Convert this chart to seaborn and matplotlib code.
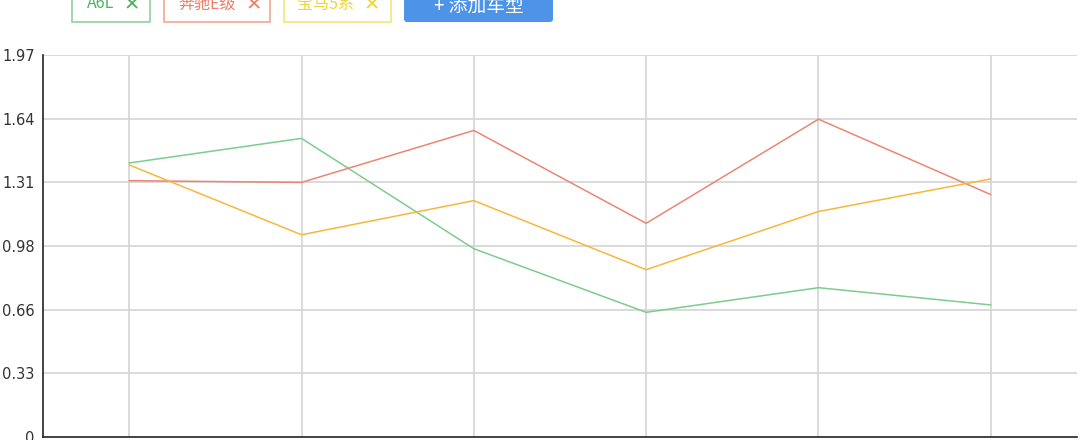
import numpy as np
import pandas as pd
import matplotlib
matplotlib.use("Agg")
import matplotlib.pyplot as plt
from matplotlib.patches import Rectangle, FancyBboxPatch
import seaborn as sns

# ---- data ----
categories = ["1", "2", "3", "4", "5", "6"]
series_names = ["A6L", "奔驰E级", "宝马5系"]
a6l = [1.413, 1.540, 0.971, 0.643, 0.770, 0.681]
benz_e = [1.322, 1.313, 1.581, 1.102, 1.639, 1.250]
bmw_5 = [1.403, 1.043, 1.219, 0.863, 1.163, 1.331]
ytick_labels = ["0", "0.33", "0.66", "0.98", "1.31", "1.64", "1.97"]
button_label = "+ 添加车型"

line_colors = ["#7ccd8c", "#eb8674", "#f6b83c"]

sns.set_theme(style="white")
plt.rcParams['font.family'] = ['DejaVu Sans', 'Noto Sans CJK SC']

rows = []
for name, vals in zip(series_names, [a6l, benz_e, bmw_5]):
    for i, v in enumerate(vals):
        rows.append({"pos": i, "cat": categories[i], "value": v, "series": name})
df = pd.DataFrame(rows)

fig = plt.figure(figsize=(10.8, 4.4), dpi=100)
ax = fig.add_axes([43 / 1080, 3 / 440, (1077 - 43) / 1080, (437 - 55) / 440])

ymax = 1.97
yt = np.linspace(0, ymax, 7)
ax.set_ylim(0, ymax)
ax.set_xlim(-0.5, len(categories) - 0.5)
ax.set_yticks(yt)
ax.set_yticklabels(ytick_labels)
ax.set_xticks(range(len(categories)))
ax.set_xticklabels([])

for y in yt[1:]:
    ax.axhline(y, color="#d4d4d4", lw=1.2, zorder=0)
for x in range(len(categories)):
    ax.axvline(x, color="#d4d4d4", lw=1.2, zorder=0)

sns.lineplot(data=df, x="pos", y="value", hue="series", palette=line_colors,
             hue_order=series_names, linewidth=1.1, legend=False, ax=ax,
             estimator=None, sort=False)
ax.set_xlabel("")
ax.set_ylabel("")
for s in ["top", "right"]:
    ax.spines[s].set_visible(False)
for s in ["left", "bottom"]:
    ax.spines[s].set_color("#222222")
    ax.spines[s].set_linewidth(1.2)
ax.tick_params(axis="both", direction="out", length=4, width=1, color="#222222",
               labelsize=10.5, labelcolor="#333333", pad=2)
ax.tick_params(axis="x", length=6)

# ---- top legend buttons (overlay in pixel coordinates) ----
ov = fig.add_axes([0, 0, 1, 1], facecolor="none")
ov.set_xlim(0, 1080)
ov.set_ylim(440, 0)
ov.axis("off")

cjk = ['Noto Sans CJK SC', 'DejaVu Sans']
legend_specs = [
    (72, 150, 87, 124, "#8fd19e", "#4fb062"),
    (164, 270, 178, 246, "#f2a595", "#ee7f68"),
    (284, 391, 297, 364, "#f5e57a", "#efd63c"),
]
for (x0, x1, tx, xx, edge, txt), name in zip(legend_specs, series_names):
    ov.add_patch(Rectangle((x0, -10), x1 - x0, 32, facecolor="white",
                           edgecolor=edge, lw=1.2))
    ov.text(tx, 8.5, name, color=txt, fontsize=11.5, family=cjk,
            ha="left", va="baseline")
    ov.text(xx, 10, "✕", color=txt, fontsize=14, fontweight="bold",
            family=['DejaVu Sans'], ha="left", va="baseline")

ov.add_patch(FancyBboxPatch((404, -10), 149, 32, boxstyle="round,pad=0,rounding_size=3",
                            facecolor="#4d94e8", edgecolor="none"))
ov.text(479, 13, button_label, color="white", fontsize=13.5,
        family=cjk, ha="center", va="baseline")

fig.savefig("out.png", dpi=100)
